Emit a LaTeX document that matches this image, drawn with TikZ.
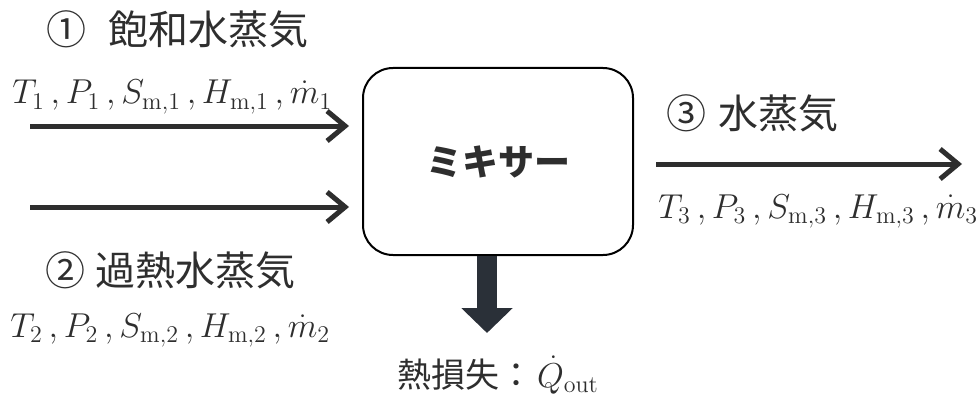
\documentclass[tikz,border=0pt]{standalone}
\usepackage{fontspec}
\newfontfamily\cjk{Noto Sans CJK JP}
\usetikzlibrary{arrows.meta}
\definecolor{ink}{HTML}{2E2E2E}
\definecolor{heat}{HTML}{2A3038}
\newcommand{\sep}{\,{,}\,}
\tikzset{
  flowline/.style={draw=ink, line width=2.5pt, -{Straight Barb[length=9pt,width=15pt]}},
  streamlbl/.style={inner sep=0pt, anchor=west, font=\cjk\fontsize{20}{22}\selectfont, text=ink},
  propslbl/.style={inner sep=0pt, anchor=base west, font=\fontsize{17.28}{20}\selectfont, text=ink},
  mixerbox/.style={draw=black, line width=1pt, rounded corners=15pt, minimum width=135pt, minimum height=93.5pt, inner sep=0pt},
  heatarrow/.style={draw=heat, line width=10pt, -{Triangle[length=12.5pt,width=25pt]}}
}
\begin{document}
\begin{tikzpicture}[x=0.5pt, y=-0.5pt]
\useasboundingbox (0,0) rectangle (978,401);

% mixer unit
\node[mixerbox] (box) at (498,161.5) {};
\node[inner sep=0pt, font=\cjk\bfseries\fontsize{18}{20}\selectfont, text=ink] (mix) at (box.center) {ミキサー};

% stream 1
\node[streamlbl] (lbl1) at (46,29) {①\hspace{11pt}飽和水蒸気};
\node[propslbl] (prop1) at (12,104) {$T_1\sep P_1\sep S_{\mathrm{m},1}\sep H_{\mathrm{m},1}\sep \dot{m}_1$};
\coordinate (in1) at (30,126);
\draw[flowline, shorten >=6.5pt] (in1) -- (in1 -| box.west);

% stream 2
\coordinate (in2) at (30,207);
\draw[flowline, shorten >=6.5pt] (in2) -- (in2 -| box.west);
\node[streamlbl] (lbl2) at (45,270) {②\hspace{5pt}過熱水蒸気};
\node[propslbl] (prop2) at (10,337) {$T_2\sep P_2\sep S_{\mathrm{m},2}\sep H_{\mathrm{m},2}\sep \dot{m}_2$};

% stream 3
\node[streamlbl] (lbl3) at (666,113) {③\hspace{6pt}水蒸気};
\coordinate (out3) at (962,164);
\draw[flowline, shorten <=11pt] (out3 -| box.east) -- (out3);
\node[propslbl] (prop3) at (658,218) {$T_3\sep P_3\sep S_{\mathrm{m},3}\sep H_{\mathrm{m},3}\sep \dot{m}_3$};

% heat loss
\coordinate (hs) at ([xshift=-5.5pt]box.south);
\coordinate (ht) at (487,333);
\draw[heatarrow] (hs) -- (hs |- ht);
\node[inner sep=0pt, text=ink, font=\fontsize{17.28}{20}\selectfont] (qout) at (498,375) {{\cjk\fontsize{17}{20}\selectfont 熱損失：}\hspace{2pt}$\dot{Q}_{\mathrm{out}}$};
\end{tikzpicture}
\end{document}
